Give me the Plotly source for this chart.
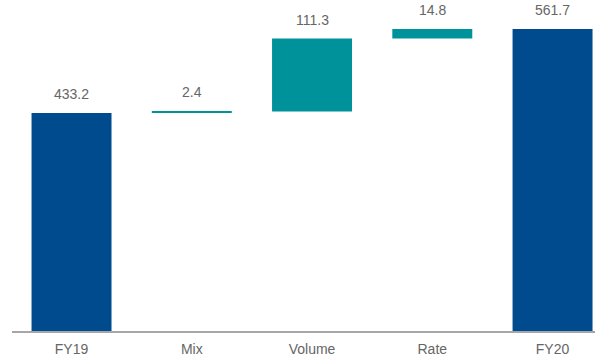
import plotly.graph_objects as go

# Revenue bridge FY19 -> FY20
categories = ["FY19", "Mix", "Volume", "Rate", "FY20"]
values = [433.2, 2.4, 111.3, 14.8, 561.7]
measures = ["absolute", "relative", "relative", "relative", "total"]
labels = ["433.2", "2.4", "111.3", "14.8", "561.7"]

BLUE = "#004B8D"
TEAL = "#00929B"
GREY_TEXT = "#666666"
FONT = "Liberation Sans, Arial, sans-serif"

fig = go.Figure(
    go.Waterfall(
        x=categories,
        y=[0 if m == "total" else v for m, v in zip(measures, values)],
        measure=measures,
        width=0.665,
        increasing=dict(marker=dict(color=TEAL)),
        decreasing=dict(marker=dict(color=TEAL)),
        totals=dict(marker=dict(color=BLUE)),
        connector=dict(visible=False),
        textposition="none",
        hoverinfo="skip",
    )
)

# value labels above each bar top
running = 0.0
for cat, m, v, lab in zip(categories, measures, values, labels):
    if m == "absolute":
        running = v
    elif m == "relative":
        running += v
    else:
        running = v
    fig.add_annotation(
        x=cat, y=running, text=lab, showarrow=False,
        yanchor="bottom", yshift=9,
        font=dict(family=FONT, size=14, color=GREY_TEXT),
    )

fig.update_layout(
    width=595, height=358,
    margin=dict(l=12, r=0, t=10, b=27),
    paper_bgcolor="white", plot_bgcolor="white",
    showlegend=False,
    font=dict(family=FONT, size=14, color=GREY_TEXT),
)
fig.update_xaxes(
    range=[-0.495, 4.353],
    showline=True, linecolor="#A6A6A6", linewidth=1.5,
    showgrid=False, ticks="", ticklabelstandoff=4,
    tickfont=dict(family=FONT, size=14, color=GREY_TEXT),
)
fig.update_yaxes(
    range=[99.8, 590.6],
    visible=False, showgrid=False, zeroline=False,
)

fig.write_html("out.html")
